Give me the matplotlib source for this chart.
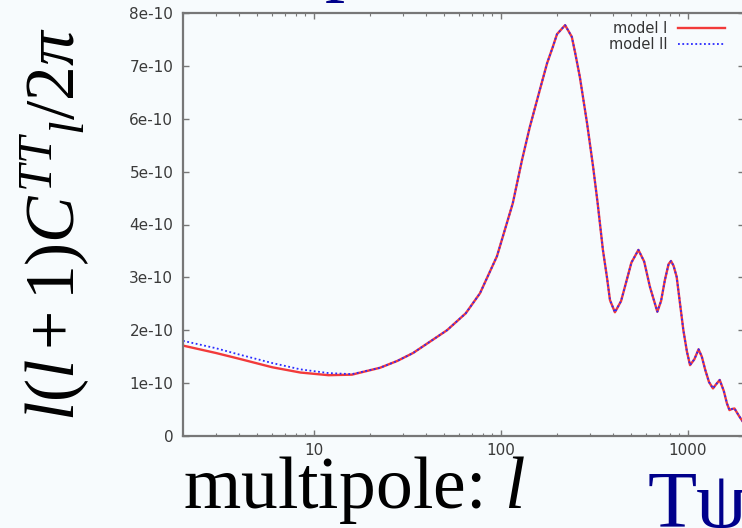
import numpy as np
import matplotlib
matplotlib.use('Agg')
import matplotlib.pyplot as plt

# шрифты: засечки для больших подписей, DejaVu для тиков и легенды
plt.rcParams['mathtext.fontset'] = 'custom'
plt.rcParams['mathtext.rm'] = 'Liberation Serif'
plt.rcParams['mathtext.it'] = 'Liberation Serif:italic'
plt.rcParams['font.family'] = ['DejaVu Sans']

# данные (C_l в единицах 1e-10)
ell = [2, 3, 4, 6, 8.5, 12, 16, 22.6, 28, 34, 51.6, 65, 77.5, 95.5, 116, 130, 143, 160, 177,
       190, 200, 221, 240, 250, 265, 290, 312, 330, 352, 370, 384, 408, 440, 472, 500, 545,
       585, 628, 688, 720, 755, 790, 814, 840, 873, 910, 948, 990, 1029, 1085, 1143, 1190,
       1241, 1300, 1365, 1420, 1483, 1560, 1620, 1672, 1720, 1779, 1880, 1972, 2000]
model_1 = [1.71, 1.57, 1.46, 1.30, 1.20, 1.15, 1.16, 1.29, 1.42, 1.57, 2.00, 2.32, 2.70, 3.40,
           4.40, 5.22, 5.84, 6.48, 7.05, 7.36, 7.60, 7.77, 7.55, 7.25, 6.79, 5.90, 5.09, 4.40,
           3.52, 3.00, 2.57, 2.34, 2.55, 2.95, 3.28, 3.52, 3.30, 2.82, 2.35, 2.55, 2.95, 3.25,
           3.31, 3.22, 3.01, 2.50, 2.00, 1.60, 1.34, 1.45, 1.64, 1.50, 1.25, 1.02, 0.90, 0.98,
           1.06, 0.85, 0.62, 0.49, 0.51, 0.52, 0.38, 0.27, 0.24]
model_2 = [1.80, 1.66, 1.54, 1.38, 1.26, 1.19, 1.17, 1.29, 1.42, 1.57, 2.00, 2.32, 2.70, 3.40,
           4.40, 5.22, 5.84, 6.48, 7.05, 7.36, 7.60, 7.77, 7.55, 7.25, 6.79, 5.90, 5.09, 4.40,
           3.52, 3.00, 2.57, 2.34, 2.55, 2.95, 3.28, 3.52, 3.30, 2.82, 2.35, 2.55, 2.95, 3.25,
           3.31, 3.22, 3.01, 2.50, 2.00, 1.60, 1.34, 1.45, 1.64, 1.50, 1.25, 1.02, 0.90, 0.98,
           1.06, 0.85, 0.62, 0.49, 0.51, 0.52, 0.38, 0.27, 0.24]
x_ticks = [10, 100, 1000]
y_ticks = [0, 1e-10, 2e-10, 3e-10, 4e-10, 5e-10, 6e-10, 7e-10, 8e-10]
y_labels = ['0', '1e-10', '2e-10', '3e-10', '4e-10', '5e-10', '6e-10', '7e-10', '8e-10']

bg = '#f7fbfd'
W, H = 742, 528
fig = plt.figure(figsize=(W / 100, H / 100), dpi=100, facecolor=bg)
ax = fig.add_axes([183 / W, (H - 436) / H, (744 - 183) / W, (436 - 13) / H], facecolor=bg)

ax.plot(ell, np.array(model_1) * 1e-10, color='#f23a3a', lw=1.7, label='model I')
ax.plot(ell, np.array(model_2) * 1e-10, color='#2a2aff', lw=1.3, ls=(0, (1, 1.4)), label='model II')

ax.set_xscale('log')
ax.set_xlim(2, 2000)
ax.set_ylim(0, 8e-10)
ax.set_xticks(x_ticks)
ax.set_xticklabels([str(t) for t in x_ticks])
ax.set_yticks(y_ticks)
ax.set_yticklabels(y_labels)

# рамка и тики в стиле gnuplot
for s in ax.spines.values():
    s.set_color('#777777')
    s.set_linewidth(1.6)
ax.tick_params(which='both', direction='in', top=True, right=True, colors='#777777',
               labelcolor='#3a3a3a', labelsize=11)
ax.tick_params(which='major', length=4.5, width=1)
ax.tick_params(which='minor', length=2.2, width=0.8)
ax.tick_params(axis='y', pad=7)
ax.tick_params(axis='x', pad=5)

leg = ax.legend(loc='upper right', bbox_to_anchor=(725 / W, 1 - 21 / H), bbox_transform=fig.transFigure,
                frameon=False, markerfirst=False, fontsize=10.5, handlelength=3.2, handletextpad=0.75,
                labelspacing=0.1, borderpad=0, borderaxespad=0)
for t in leg.get_texts():
    t.set_color('#333333')

# большие подписи со слайда
fig.text(55 / W, 1 - 224 / H, r'$l(l+\mathit{1})C^{TT}{}_{l}/\mathit{2}\pi$', rotation=90,
         ha='center', va='center', fontsize=50, color='black')
fig.text(183 / W, 1 - 508 / H, r'multipole: $l$', ha='left', va='baseline', fontsize=53,
         family='Liberation Serif', color='black')
fig.text(648 / W, 1 - 527 / H, 'Tψ', ha='left', va='baseline', fontsize=58,
         family='Liberation Serif', color='#00008b')
fig.text(325 / W, 1 + 14 / H, 'p', ha='left', va='baseline', fontsize=58,
         family='Liberation Serif', color='#00008b')

fig.savefig('out.png', dpi=100, facecolor=bg)
